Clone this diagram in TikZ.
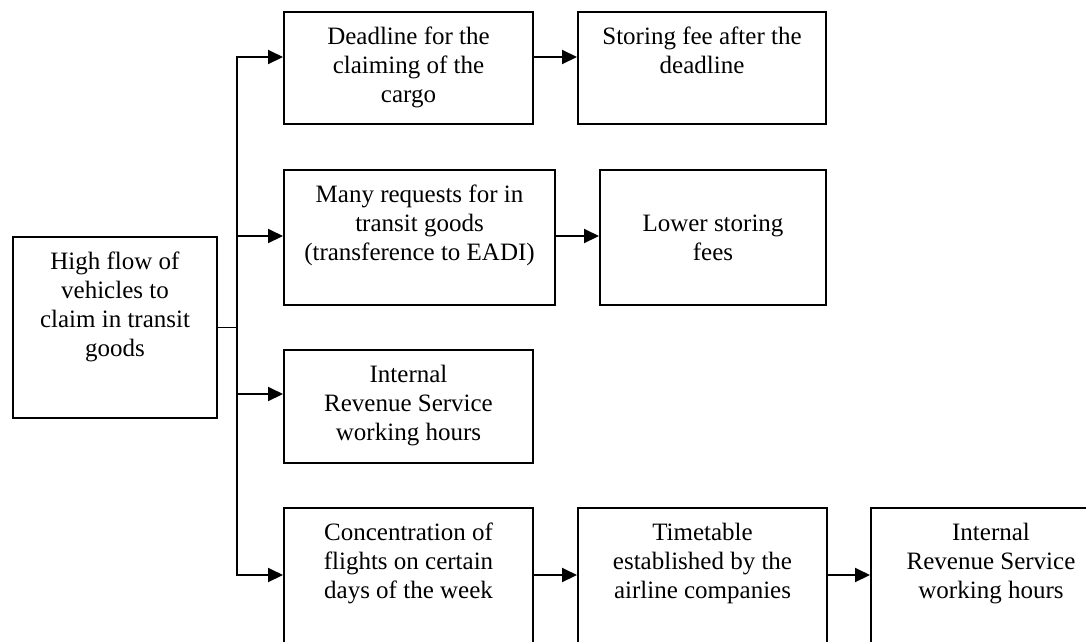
\documentclass[tikz,border=0pt]{standalone}
\usepackage{fontspec}
\setmainfont{Liberation Serif}
\usetikzlibrary{arrows.meta}
% fixed-size box contents: width, height, first baseline offset, text
\newcommand\bxt[4]{\parbox[c][#2pt][t]{#1pt}{\centering\rule{0pt}{#3pt}#4\par}}
\tikzset{
  box/.style={draw, line width=2pt, inner sep=0pt, anchor=north west,
    font=\fontsize{25pt}{29pt}\selectfont},
  link/.style={line width=2pt},
  thinlink/.style={line width=1.2pt},
  tip/.tip={Triangle[length=15pt,width=14pt]},
  arr/.style={link, -tip},
}
\begin{document}
\begin{tikzpicture}[x=1pt, y=-1pt]
\useasboundingbox (0,0) rectangle (1086,641);
\clip (0,0) rectangle (1086,641);

% boxes
\node[box] (main) at (12,236) {\bxt{204}{181}{32}{High flow of\\vehicles to\\claim in transit\\goods}};
\node[box] (dl) at (283,11) {\bxt{249}{112}{32}{Deadline for the\\claiming of the\\cargo}};
\node[box] (st) at (577,11) {\bxt{248}{112}{32}{Storing fee after the\\deadline}};
\node[box] (mr) at (283,169) {\bxt{271}{135}{32}{Many requests for in\\transit goods\\(transference to EADI)}};
\node[box] (lf) at (599,169) {\bxt{226}{135}{61}{Lower storing\\fees}};
\node[box] (irs) at (283,349) {\bxt{249}{113}{32}{Internal\\Revenue Service\\working hours}};
\node[box] (cc) at (283,507) {\bxt{249}{160}{32}{Concentration of\\flights on certain\\days of the week}};
\node[box] (tt) at (577,507) {\bxt{249}{160}{32}{Timetable\\established by the\\airline companies}};
\node[box] (ir2) at (870,507) {\bxt{240}{160}{32}{Internal\\Revenue Service\\working hours}};

% junctions on the vertical trunk
\coordinate (jA) at (237,57);
\coordinate (jB) at (237,236);
\coordinate (jC) at (237,394);
\coordinate (jD) at (237,575);

% connectors
\draw[thinlink] (main.east) -- (main.east -| jA);
\draw[link, tip-tip] (dl.west |- jA) -- (jA) -- (jD) -- (cc.west |- jD);
\draw[arr] (jB) -- (jB -| mr.west);
\draw[arr] (jC) -- (jC -| irs.west);
\draw[arr] (dl.east |- jA) -- (st.west |- jA);
\draw[arr] (mr.east |- jB) -- (lf.west |- jB);
\draw[arr] (cc.east |- jD) -- (tt.west |- jD);
\draw[arr] (tt.east |- jD) -- (ir2.west |- jD);
\end{tikzpicture}
\end{document}
